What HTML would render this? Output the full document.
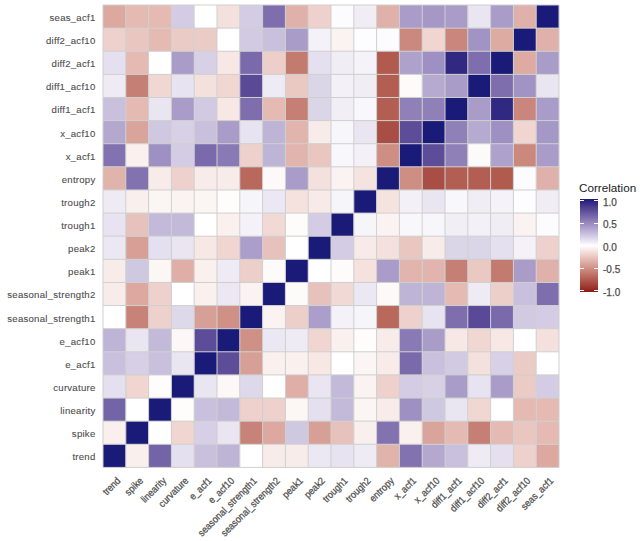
<!DOCTYPE html>
<html><head><meta charset="utf-8"><style>
html,body{margin:0;padding:0;background:#fff;}
body{width:640px;height:541px;position:relative;overflow:hidden;font-family:"Liberation Sans",sans-serif;}
.g{position:absolute;left:0;top:0;}
.yl{position:absolute;right:544.5px;font-size:9.6px;letter-spacing:0.25px;line-height:12px;color:#4d4d4d;white-space:nowrap;text-align:right;-webkit-text-stroke:0.1px #4d4d4d;}
.xl{position:absolute;top:475px;width:200px;height:12px;}
.xl span{position:absolute;right:0;top:0;font-size:10px;line-height:12px;color:#4d4d4d;white-space:nowrap;-webkit-text-stroke:0.25px #4d4d4d;transform-origin:100% 0;transform:rotate(-45deg) scaleX(0.9);}
.lt{position:absolute;left:579px;top:180.8px;font-size:11.7px;line-height:14px;color:#1a1a1a;}
.lb{position:absolute;left:580px;top:198.6px;width:18px;height:93.6px;background:linear-gradient(to bottom,#1a1a78 0.0%,#2b247f 2.5%,#392e85 5.0%,#46388c 7.5%,#524393 10.0%,#5d4d99 12.5%,#6858a0 15.0%,#7363a7 17.5%,#7e6ead 20.0%,#8979b4 22.5%,#9485bb 25.0%,#9e90c2 27.5%,#a99cc8 30.0%,#b4a8cf 32.5%,#beb4d6 35.0%,#c9c0dd 37.5%,#d4cce4 40.0%,#ded9ea 42.5%,#e9e5f1 45.0%,#f4f2f8 47.5%,#ffffff 50.0%,#fbf3f2 52.5%,#f7e8e5 55.0%,#f2dcd9 57.5%,#eed1cc 60.0%,#e9c6c0 62.5%,#e4bab3 65.0%,#dfafa7 67.5%,#d9a49b 70.0%,#d4998f 72.5%,#ce8e84 75.0%,#c88378 77.5%,#c2786d 80.0%,#bc6d62 82.5%,#b66257 85.0%,#af574c 87.5%,#a84c42 90.0%,#a14137 92.5%,#9a352d 95.0%,#932924 97.5%,#8b1a1a 100.0%);}
.tk{position:absolute;width:4px;height:1px;background:#fff;}
.ll{position:absolute;left:603px;font-size:10px;line-height:10px;color:#4d4d4d;-webkit-text-stroke:0.25px #4d4d4d;}
</style></head><body>
<svg class="g" width="640" height="541" viewBox="0 0 640 541"><rect x="103.00" y="5.00" width="22.85" height="23.17" fill="#dca8a0"/><rect x="125.80" y="5.00" width="22.85" height="23.17" fill="#e4bab3"/><rect x="148.60" y="5.00" width="22.85" height="23.17" fill="#e4bab3"/><rect x="171.40" y="5.00" width="22.85" height="23.17" fill="#d4cce4"/><rect x="194.20" y="5.00" width="22.85" height="23.17" fill="#ffffff"/><rect x="217.00" y="5.00" width="22.85" height="23.17" fill="#f4e0dc"/><rect x="239.80" y="5.00" width="22.85" height="23.17" fill="#d4cce4"/><rect x="262.60" y="5.00" width="22.85" height="23.17" fill="#7e6ead"/><rect x="285.40" y="5.00" width="22.85" height="23.17" fill="#e0b1aa"/><rect x="308.20" y="5.00" width="22.85" height="23.17" fill="#eed1cc"/><rect x="331.00" y="5.00" width="22.85" height="23.17" fill="#fcfbfd"/><rect x="353.80" y="5.00" width="22.85" height="23.17" fill="#f0edf5"/><rect x="376.60" y="5.00" width="22.85" height="23.17" fill="#e0b1aa"/><rect x="399.40" y="5.00" width="22.85" height="23.17" fill="#a99cc8"/><rect x="422.20" y="5.00" width="22.85" height="23.17" fill="#a597c6"/><rect x="445.00" y="5.00" width="22.85" height="23.17" fill="#a99cc8"/><rect x="467.80" y="5.00" width="22.85" height="23.17" fill="#e9e5f1"/><rect x="490.60" y="5.00" width="22.85" height="23.17" fill="#a99cc8"/><rect x="513.40" y="5.00" width="22.85" height="23.17" fill="#e0b1aa"/><rect x="536.20" y="5.00" width="22.85" height="23.17" fill="#1a1a78"/><rect x="103.00" y="28.12" width="22.85" height="23.17" fill="#eed1cc"/><rect x="125.80" y="28.12" width="22.85" height="23.17" fill="#e9c6c0"/><rect x="148.60" y="28.12" width="22.85" height="23.17" fill="#e4bab3"/><rect x="171.40" y="28.12" width="22.85" height="23.17" fill="#ebcbc6"/><rect x="194.20" y="28.12" width="22.85" height="23.17" fill="#ebcbc6"/><rect x="217.00" y="28.12" width="22.85" height="23.17" fill="#ffffff"/><rect x="239.80" y="28.12" width="22.85" height="23.17" fill="#d2cae2"/><rect x="262.60" y="28.12" width="22.85" height="23.17" fill="#c9c0dd"/><rect x="285.40" y="28.12" width="22.85" height="23.17" fill="#a99cc8"/><rect x="308.20" y="28.12" width="22.85" height="23.17" fill="#f4f2f8"/><rect x="331.00" y="28.12" width="22.85" height="23.17" fill="#fbf3f2"/><rect x="353.80" y="28.12" width="22.85" height="23.17" fill="#fdfcfe"/><rect x="376.60" y="28.12" width="22.85" height="23.17" fill="#fcfbfd"/><rect x="399.40" y="28.12" width="22.85" height="23.17" fill="#cb897e"/><rect x="422.20" y="28.12" width="22.85" height="23.17" fill="#f0d5d1"/><rect x="445.00" y="28.12" width="22.85" height="23.17" fill="#ca867c"/><rect x="467.80" y="28.12" width="22.85" height="23.17" fill="#a194c4"/><rect x="490.60" y="28.12" width="22.85" height="23.17" fill="#ddaba2"/><rect x="513.40" y="28.12" width="22.85" height="23.17" fill="#1a1a78"/><rect x="536.20" y="28.12" width="22.85" height="23.17" fill="#e0b1aa"/><rect x="103.00" y="51.24" width="22.85" height="23.17" fill="#e5e0ef"/><rect x="125.80" y="51.24" width="22.85" height="23.17" fill="#e4bab3"/><rect x="148.60" y="51.24" width="22.85" height="23.17" fill="#ffffff"/><rect x="171.40" y="51.24" width="22.85" height="23.17" fill="#a99cc8"/><rect x="194.20" y="51.24" width="22.85" height="23.17" fill="#d7d0e6"/><rect x="217.00" y="51.24" width="22.85" height="23.17" fill="#f7e8e5"/><rect x="239.80" y="51.24" width="22.85" height="23.17" fill="#7a69ab"/><rect x="262.60" y="51.24" width="22.85" height="23.17" fill="#edcfca"/><rect x="285.40" y="51.24" width="22.85" height="23.17" fill="#c37a6f"/><rect x="308.20" y="51.24" width="22.85" height="23.17" fill="#e5e0ef"/><rect x="331.00" y="51.24" width="22.85" height="23.17" fill="#f0edf5"/><rect x="353.80" y="51.24" width="22.85" height="23.17" fill="#f5f3f9"/><rect x="376.60" y="51.24" width="22.85" height="23.17" fill="#b15b4f"/><rect x="399.40" y="51.24" width="22.85" height="23.17" fill="#aea2cc"/><rect x="422.20" y="51.24" width="22.85" height="23.17" fill="#9e90c2"/><rect x="445.00" y="51.24" width="22.85" height="23.17" fill="#312881"/><rect x="467.80" y="51.24" width="22.85" height="23.17" fill="#7e6ead"/><rect x="490.60" y="51.24" width="22.85" height="23.17" fill="#1a1a78"/><rect x="513.40" y="51.24" width="22.85" height="23.17" fill="#ddaba2"/><rect x="536.20" y="51.24" width="22.85" height="23.17" fill="#a99cc8"/><rect x="103.00" y="74.36" width="22.85" height="23.17" fill="#eeebf4"/><rect x="125.80" y="74.36" width="22.85" height="23.17" fill="#c67f74"/><rect x="148.60" y="74.36" width="22.85" height="23.17" fill="#f0d7d2"/><rect x="171.40" y="74.36" width="22.85" height="23.17" fill="#e7e3f0"/><rect x="194.20" y="74.36" width="22.85" height="23.17" fill="#f4e0dc"/><rect x="217.00" y="74.36" width="22.85" height="23.17" fill="#f0d7d2"/><rect x="239.80" y="74.36" width="22.85" height="23.17" fill="#594997"/><rect x="262.60" y="74.36" width="22.85" height="23.17" fill="#eeebf4"/><rect x="285.40" y="74.36" width="22.85" height="23.17" fill="#eac9c3"/><rect x="308.20" y="74.36" width="22.85" height="23.17" fill="#dbd5e8"/><rect x="331.00" y="74.36" width="22.85" height="23.17" fill="#f3f1f7"/><rect x="353.80" y="74.36" width="22.85" height="23.17" fill="#f0edf5"/><rect x="376.60" y="74.36" width="22.85" height="23.17" fill="#b35e53"/><rect x="399.40" y="74.36" width="22.85" height="23.17" fill="#fdfafa"/><rect x="422.20" y="74.36" width="22.85" height="23.17" fill="#b6aad1"/><rect x="445.00" y="74.36" width="22.85" height="23.17" fill="#a99cc8"/><rect x="467.80" y="74.36" width="22.85" height="23.17" fill="#1a1a78"/><rect x="490.60" y="74.36" width="22.85" height="23.17" fill="#7e6ead"/><rect x="513.40" y="74.36" width="22.85" height="23.17" fill="#a194c4"/><rect x="536.20" y="74.36" width="22.85" height="23.17" fill="#e9e5f1"/><rect x="103.00" y="97.48" width="22.85" height="23.17" fill="#c9c0dd"/><rect x="125.80" y="97.48" width="22.85" height="23.17" fill="#e4bab3"/><rect x="148.60" y="97.48" width="22.85" height="23.17" fill="#e9e5f1"/><rect x="171.40" y="97.48" width="22.85" height="23.17" fill="#a99cc8"/><rect x="194.20" y="97.48" width="22.85" height="23.17" fill="#d2cae2"/><rect x="217.00" y="97.48" width="22.85" height="23.17" fill="#f7e8e5"/><rect x="239.80" y="97.48" width="22.85" height="23.17" fill="#7e6ead"/><rect x="262.60" y="97.48" width="22.85" height="23.17" fill="#e4bab3"/><rect x="285.40" y="97.48" width="22.85" height="23.17" fill="#c67f74"/><rect x="308.20" y="97.48" width="22.85" height="23.17" fill="#dbd5e8"/><rect x="331.00" y="97.48" width="22.85" height="23.17" fill="#f1eef6"/><rect x="353.80" y="97.48" width="22.85" height="23.17" fill="#f8f7fb"/><rect x="376.60" y="97.48" width="22.85" height="23.17" fill="#b35e53"/><rect x="399.40" y="97.48" width="22.85" height="23.17" fill="#8f80b8"/><rect x="422.20" y="97.48" width="22.85" height="23.17" fill="#8f80b8"/><rect x="445.00" y="97.48" width="22.85" height="23.17" fill="#1a1a78"/><rect x="467.80" y="97.48" width="22.85" height="23.17" fill="#a99cc8"/><rect x="490.60" y="97.48" width="22.85" height="23.17" fill="#312881"/><rect x="513.40" y="97.48" width="22.85" height="23.17" fill="#ca867c"/><rect x="536.20" y="97.48" width="22.85" height="23.17" fill="#a99cc8"/><rect x="103.00" y="120.60" width="22.85" height="23.17" fill="#b4a8cf"/><rect x="125.80" y="120.60" width="22.85" height="23.17" fill="#d9a49b"/><rect x="148.60" y="120.60" width="22.85" height="23.17" fill="#cfc8e1"/><rect x="171.40" y="120.60" width="22.85" height="23.17" fill="#d8d1e6"/><rect x="194.20" y="120.60" width="22.85" height="23.17" fill="#c9c0dd"/><rect x="217.00" y="120.60" width="22.85" height="23.17" fill="#a99cc8"/><rect x="239.80" y="120.60" width="22.85" height="23.17" fill="#e7e3f0"/><rect x="262.60" y="120.60" width="22.85" height="23.17" fill="#beb4d6"/><rect x="285.40" y="120.60" width="22.85" height="23.17" fill="#e1b5ad"/><rect x="308.20" y="120.60" width="22.85" height="23.17" fill="#f8ecea"/><rect x="331.00" y="120.60" width="22.85" height="23.17" fill="#f7f6fa"/><rect x="353.80" y="120.60" width="22.85" height="23.17" fill="#e9e5f1"/><rect x="376.60" y="120.60" width="22.85" height="23.17" fill="#a94e44"/><rect x="399.40" y="120.60" width="22.85" height="23.17" fill="#5d4d99"/><rect x="422.20" y="120.60" width="22.85" height="23.17" fill="#1a1a78"/><rect x="445.00" y="120.60" width="22.85" height="23.17" fill="#8f80b8"/><rect x="467.80" y="120.60" width="22.85" height="23.17" fill="#b6aad1"/><rect x="490.60" y="120.60" width="22.85" height="23.17" fill="#9e90c2"/><rect x="513.40" y="120.60" width="22.85" height="23.17" fill="#f0d5d1"/><rect x="536.20" y="120.60" width="22.85" height="23.17" fill="#a597c6"/><rect x="103.00" y="143.72" width="22.85" height="23.17" fill="#8272b0"/><rect x="125.80" y="143.72" width="22.85" height="23.17" fill="#faf0ee"/><rect x="148.60" y="143.72" width="22.85" height="23.17" fill="#9e90c2"/><rect x="171.40" y="143.72" width="22.85" height="23.17" fill="#d4cce4"/><rect x="194.20" y="143.72" width="22.85" height="23.17" fill="#7a69ab"/><rect x="217.00" y="143.72" width="22.85" height="23.17" fill="#8979b4"/><rect x="239.80" y="143.72" width="22.85" height="23.17" fill="#eed1cc"/><rect x="262.60" y="143.72" width="22.85" height="23.17" fill="#beb4d6"/><rect x="285.40" y="143.72" width="22.85" height="23.17" fill="#e1b5ad"/><rect x="308.20" y="143.72" width="22.85" height="23.17" fill="#e9c6c0"/><rect x="331.00" y="143.72" width="22.85" height="23.17" fill="#f8f7fb"/><rect x="353.80" y="143.72" width="22.85" height="23.17" fill="#f3f1f7"/><rect x="376.60" y="143.72" width="22.85" height="23.17" fill="#ce8e84"/><rect x="399.40" y="143.72" width="22.85" height="23.17" fill="#1a1a78"/><rect x="422.20" y="143.72" width="22.85" height="23.17" fill="#5d4d99"/><rect x="445.00" y="143.72" width="22.85" height="23.17" fill="#8f80b8"/><rect x="467.80" y="143.72" width="22.85" height="23.17" fill="#fdfafa"/><rect x="490.60" y="143.72" width="22.85" height="23.17" fill="#aea2cc"/><rect x="513.40" y="143.72" width="22.85" height="23.17" fill="#cb897e"/><rect x="536.20" y="143.72" width="22.85" height="23.17" fill="#a99cc8"/><rect x="103.00" y="166.84" width="22.85" height="23.17" fill="#e0b3ab"/><rect x="125.80" y="166.84" width="22.85" height="23.17" fill="#8272b0"/><rect x="148.60" y="166.84" width="22.85" height="23.17" fill="#f8ecea"/><rect x="171.40" y="166.84" width="22.85" height="23.17" fill="#eed1cc"/><rect x="194.20" y="166.84" width="22.85" height="23.17" fill="#f8ecea"/><rect x="217.00" y="166.84" width="22.85" height="23.17" fill="#f8ecea"/><rect x="239.80" y="166.84" width="22.85" height="23.17" fill="#b9685c"/><rect x="262.60" y="166.84" width="22.85" height="23.17" fill="#fdf9f9"/><rect x="285.40" y="166.84" width="22.85" height="23.17" fill="#a99cc8"/><rect x="308.20" y="166.84" width="22.85" height="23.17" fill="#f4e0dc"/><rect x="331.00" y="166.84" width="22.85" height="23.17" fill="#fbf3f2"/><rect x="353.80" y="166.84" width="22.85" height="23.17" fill="#f5e3e0"/><rect x="376.60" y="166.84" width="22.85" height="23.17" fill="#1a1a78"/><rect x="399.40" y="166.84" width="22.85" height="23.17" fill="#ce8e84"/><rect x="422.20" y="166.84" width="22.85" height="23.17" fill="#a94e44"/><rect x="445.00" y="166.84" width="22.85" height="23.17" fill="#b35e53"/><rect x="467.80" y="166.84" width="22.85" height="23.17" fill="#b35e53"/><rect x="490.60" y="166.84" width="22.85" height="23.17" fill="#b15b4f"/><rect x="513.40" y="166.84" width="22.85" height="23.17" fill="#fcfbfd"/><rect x="536.20" y="166.84" width="22.85" height="23.17" fill="#e0b1aa"/><rect x="103.00" y="189.96" width="22.85" height="23.17" fill="#eeebf4"/><rect x="125.80" y="189.96" width="22.85" height="23.17" fill="#f9efed"/><rect x="148.60" y="189.96" width="22.85" height="23.17" fill="#fbf5f3"/><rect x="171.40" y="189.96" width="22.85" height="23.17" fill="#fbf3f2"/><rect x="194.20" y="189.96" width="22.85" height="23.17" fill="#fbf5f3"/><rect x="217.00" y="189.96" width="22.85" height="23.17" fill="#fefdfc"/><rect x="239.80" y="189.96" width="22.85" height="23.17" fill="#f6f5fa"/><rect x="262.60" y="189.96" width="22.85" height="23.17" fill="#ebe8f3"/><rect x="285.40" y="189.96" width="22.85" height="23.17" fill="#f5e2df"/><rect x="308.20" y="189.96" width="22.85" height="23.17" fill="#f8eae8"/><rect x="331.00" y="189.96" width="22.85" height="23.17" fill="#f6f5fa"/><rect x="353.80" y="189.96" width="22.85" height="23.17" fill="#1a1a78"/><rect x="376.60" y="189.96" width="22.85" height="23.17" fill="#f5e3e0"/><rect x="399.40" y="189.96" width="22.85" height="23.17" fill="#f3f1f7"/><rect x="422.20" y="189.96" width="22.85" height="23.17" fill="#e9e5f1"/><rect x="445.00" y="189.96" width="22.85" height="23.17" fill="#f8f7fb"/><rect x="467.80" y="189.96" width="22.85" height="23.17" fill="#f0edf5"/><rect x="490.60" y="189.96" width="22.85" height="23.17" fill="#f5f3f9"/><rect x="513.40" y="189.96" width="22.85" height="23.17" fill="#fdfcfe"/><rect x="536.20" y="189.96" width="22.85" height="23.17" fill="#f0edf5"/><rect x="103.00" y="213.08" width="22.85" height="23.17" fill="#e7e3f0"/><rect x="125.80" y="213.08" width="22.85" height="23.17" fill="#e7c2bc"/><rect x="148.60" y="213.08" width="22.85" height="23.17" fill="#c3b9d9"/><rect x="171.40" y="213.08" width="22.85" height="23.17" fill="#c3b9d9"/><rect x="194.20" y="213.08" width="22.85" height="23.17" fill="#ffffff"/><rect x="217.00" y="213.08" width="22.85" height="23.17" fill="#faf1ef"/><rect x="239.80" y="213.08" width="22.85" height="23.17" fill="#f4f2f8"/><rect x="262.60" y="213.08" width="22.85" height="23.17" fill="#f1d9d5"/><rect x="285.40" y="213.08" width="22.85" height="23.17" fill="#fefcfb"/><rect x="308.20" y="213.08" width="22.85" height="23.17" fill="#d4cce4"/><rect x="331.00" y="213.08" width="22.85" height="23.17" fill="#1a1a78"/><rect x="353.80" y="213.08" width="22.85" height="23.17" fill="#f6f5fa"/><rect x="376.60" y="213.08" width="22.85" height="23.17" fill="#fbf3f2"/><rect x="399.40" y="213.08" width="22.85" height="23.17" fill="#f8f7fb"/><rect x="422.20" y="213.08" width="22.85" height="23.17" fill="#f7f6fa"/><rect x="445.00" y="213.08" width="22.85" height="23.17" fill="#f1eef6"/><rect x="467.80" y="213.08" width="22.85" height="23.17" fill="#f3f1f7"/><rect x="490.60" y="213.08" width="22.85" height="23.17" fill="#f0edf5"/><rect x="513.40" y="213.08" width="22.85" height="23.17" fill="#fbf3f2"/><rect x="536.20" y="213.08" width="22.85" height="23.17" fill="#fcfbfd"/><rect x="103.00" y="236.20" width="22.85" height="23.17" fill="#ebe8f3"/><rect x="125.80" y="236.20" width="22.85" height="23.17" fill="#d7a097"/><rect x="148.60" y="236.20" width="22.85" height="23.17" fill="#e5e0ef"/><rect x="171.40" y="236.20" width="22.85" height="23.17" fill="#e9e5f1"/><rect x="194.20" y="236.20" width="22.85" height="23.17" fill="#f7e8e5"/><rect x="217.00" y="236.20" width="22.85" height="23.17" fill="#f0d5d1"/><rect x="239.80" y="236.20" width="22.85" height="23.17" fill="#ab9eca"/><rect x="262.60" y="236.20" width="22.85" height="23.17" fill="#e7c2bc"/><rect x="285.40" y="236.20" width="22.85" height="23.17" fill="#ffffff"/><rect x="308.20" y="236.20" width="22.85" height="23.17" fill="#1a1a78"/><rect x="331.00" y="236.20" width="22.85" height="23.17" fill="#d4cce4"/><rect x="353.80" y="236.20" width="22.85" height="23.17" fill="#f8eae8"/><rect x="376.60" y="236.20" width="22.85" height="23.17" fill="#f4e0dc"/><rect x="399.40" y="236.20" width="22.85" height="23.17" fill="#e9c6c0"/><rect x="422.20" y="236.20" width="22.85" height="23.17" fill="#f8ecea"/><rect x="445.00" y="236.20" width="22.85" height="23.17" fill="#dbd5e8"/><rect x="467.80" y="236.20" width="22.85" height="23.17" fill="#dbd5e8"/><rect x="490.60" y="236.20" width="22.85" height="23.17" fill="#e5e0ef"/><rect x="513.40" y="236.20" width="22.85" height="23.17" fill="#f4f2f8"/><rect x="536.20" y="236.20" width="22.85" height="23.17" fill="#eed1cc"/><rect x="103.00" y="259.32" width="22.85" height="23.17" fill="#f8ecea"/><rect x="125.80" y="259.32" width="22.85" height="23.17" fill="#cfc8e1"/><rect x="148.60" y="259.32" width="22.85" height="23.17" fill="#fcf6f5"/><rect x="171.40" y="259.32" width="22.85" height="23.17" fill="#dfafa7"/><rect x="194.20" y="259.32" width="22.85" height="23.17" fill="#faf1ef"/><rect x="217.00" y="259.32" width="22.85" height="23.17" fill="#eeebf4"/><rect x="239.80" y="259.32" width="22.85" height="23.17" fill="#edcfca"/><rect x="262.60" y="259.32" width="22.85" height="23.17" fill="#fdfafa"/><rect x="285.40" y="259.32" width="22.85" height="23.17" fill="#1a1a78"/><rect x="308.20" y="259.32" width="22.85" height="23.17" fill="#ffffff"/><rect x="331.00" y="259.32" width="22.85" height="23.17" fill="#fefcfb"/><rect x="353.80" y="259.32" width="22.85" height="23.17" fill="#f5e2df"/><rect x="376.60" y="259.32" width="22.85" height="23.17" fill="#a99cc8"/><rect x="399.40" y="259.32" width="22.85" height="23.17" fill="#e1b5ad"/><rect x="422.20" y="259.32" width="22.85" height="23.17" fill="#e1b5ad"/><rect x="445.00" y="259.32" width="22.85" height="23.17" fill="#c67f74"/><rect x="467.80" y="259.32" width="22.85" height="23.17" fill="#eac9c3"/><rect x="490.60" y="259.32" width="22.85" height="23.17" fill="#c37a6f"/><rect x="513.40" y="259.32" width="22.85" height="23.17" fill="#a99cc8"/><rect x="536.20" y="259.32" width="22.85" height="23.17" fill="#e0b1aa"/><rect x="103.00" y="282.44" width="22.85" height="23.17" fill="#f8ecea"/><rect x="125.80" y="282.44" width="22.85" height="23.17" fill="#dca8a0"/><rect x="148.60" y="282.44" width="22.85" height="23.17" fill="#eed1cc"/><rect x="171.40" y="282.44" width="22.85" height="23.17" fill="#ffffff"/><rect x="194.20" y="282.44" width="22.85" height="23.17" fill="#faf1ef"/><rect x="217.00" y="282.44" width="22.85" height="23.17" fill="#ebe8f3"/><rect x="239.80" y="282.44" width="22.85" height="23.17" fill="#fbf3f2"/><rect x="262.60" y="282.44" width="22.85" height="23.17" fill="#1a1a78"/><rect x="285.40" y="282.44" width="22.85" height="23.17" fill="#fdfafa"/><rect x="308.20" y="282.44" width="22.85" height="23.17" fill="#e7c2bc"/><rect x="331.00" y="282.44" width="22.85" height="23.17" fill="#f1d9d5"/><rect x="353.80" y="282.44" width="22.85" height="23.17" fill="#ebe8f3"/><rect x="376.60" y="282.44" width="22.85" height="23.17" fill="#fdf9f9"/><rect x="399.40" y="282.44" width="22.85" height="23.17" fill="#beb4d6"/><rect x="422.20" y="282.44" width="22.85" height="23.17" fill="#beb4d6"/><rect x="445.00" y="282.44" width="22.85" height="23.17" fill="#e4bab3"/><rect x="467.80" y="282.44" width="22.85" height="23.17" fill="#eeebf4"/><rect x="490.60" y="282.44" width="22.85" height="23.17" fill="#edcfca"/><rect x="513.40" y="282.44" width="22.85" height="23.17" fill="#c9c0dd"/><rect x="536.20" y="282.44" width="22.85" height="23.17" fill="#7e6ead"/><rect x="103.00" y="305.56" width="22.85" height="23.17" fill="#ffffff"/><rect x="125.80" y="305.56" width="22.85" height="23.17" fill="#c88378"/><rect x="148.60" y="305.56" width="22.85" height="23.17" fill="#eed1cc"/><rect x="171.40" y="305.56" width="22.85" height="23.17" fill="#ded9ea"/><rect x="194.20" y="305.56" width="22.85" height="23.17" fill="#d7a097"/><rect x="217.00" y="305.56" width="22.85" height="23.17" fill="#cf9086"/><rect x="239.80" y="305.56" width="22.85" height="23.17" fill="#1a1a78"/><rect x="262.60" y="305.56" width="22.85" height="23.17" fill="#fbf3f2"/><rect x="285.40" y="305.56" width="22.85" height="23.17" fill="#edcfca"/><rect x="308.20" y="305.56" width="22.85" height="23.17" fill="#ab9eca"/><rect x="331.00" y="305.56" width="22.85" height="23.17" fill="#f4f2f8"/><rect x="353.80" y="305.56" width="22.85" height="23.17" fill="#f6f5fa"/><rect x="376.60" y="305.56" width="22.85" height="23.17" fill="#b9685c"/><rect x="399.40" y="305.56" width="22.85" height="23.17" fill="#eed1cc"/><rect x="422.20" y="305.56" width="22.85" height="23.17" fill="#e7e3f0"/><rect x="445.00" y="305.56" width="22.85" height="23.17" fill="#7e6ead"/><rect x="467.80" y="305.56" width="22.85" height="23.17" fill="#594997"/><rect x="490.60" y="305.56" width="22.85" height="23.17" fill="#7a69ab"/><rect x="513.40" y="305.56" width="22.85" height="23.17" fill="#d2cae2"/><rect x="536.20" y="305.56" width="22.85" height="23.17" fill="#d4cce4"/><rect x="103.00" y="328.68" width="22.85" height="23.17" fill="#beb4d6"/><rect x="125.80" y="328.68" width="22.85" height="23.17" fill="#e9e5f1"/><rect x="148.60" y="328.68" width="22.85" height="23.17" fill="#c3b9d9"/><rect x="171.40" y="328.68" width="22.85" height="23.17" fill="#fdf8f7"/><rect x="194.20" y="328.68" width="22.85" height="23.17" fill="#5d4d99"/><rect x="217.00" y="328.68" width="22.85" height="23.17" fill="#1a1a78"/><rect x="239.80" y="328.68" width="22.85" height="23.17" fill="#cf9086"/><rect x="262.60" y="328.68" width="22.85" height="23.17" fill="#ebe8f3"/><rect x="285.40" y="328.68" width="22.85" height="23.17" fill="#eeebf4"/><rect x="308.20" y="328.68" width="22.85" height="23.17" fill="#f0d5d1"/><rect x="331.00" y="328.68" width="22.85" height="23.17" fill="#faf1ef"/><rect x="353.80" y="328.68" width="22.85" height="23.17" fill="#fefdfc"/><rect x="376.60" y="328.68" width="22.85" height="23.17" fill="#f8ecea"/><rect x="399.40" y="328.68" width="22.85" height="23.17" fill="#8979b4"/><rect x="422.20" y="328.68" width="22.85" height="23.17" fill="#a99cc8"/><rect x="445.00" y="328.68" width="22.85" height="23.17" fill="#f7e8e5"/><rect x="467.80" y="328.68" width="22.85" height="23.17" fill="#f0d7d2"/><rect x="490.60" y="328.68" width="22.85" height="23.17" fill="#f7e8e5"/><rect x="513.40" y="328.68" width="22.85" height="23.17" fill="#ffffff"/><rect x="536.20" y="328.68" width="22.85" height="23.17" fill="#f4e0dc"/><rect x="103.00" y="351.80" width="22.85" height="23.17" fill="#c9c0dd"/><rect x="125.80" y="351.80" width="22.85" height="23.17" fill="#d6cfe5"/><rect x="148.60" y="351.80" width="22.85" height="23.17" fill="#c9c0dd"/><rect x="171.40" y="351.80" width="22.85" height="23.17" fill="#e9e5f1"/><rect x="194.20" y="351.80" width="22.85" height="23.17" fill="#1a1a78"/><rect x="217.00" y="351.80" width="22.85" height="23.17" fill="#5d4d99"/><rect x="239.80" y="351.80" width="22.85" height="23.17" fill="#d7a097"/><rect x="262.60" y="351.80" width="22.85" height="23.17" fill="#faf1ef"/><rect x="285.40" y="351.80" width="22.85" height="23.17" fill="#faf1ef"/><rect x="308.20" y="351.80" width="22.85" height="23.17" fill="#f7e8e5"/><rect x="331.00" y="351.80" width="22.85" height="23.17" fill="#ffffff"/><rect x="353.80" y="351.80" width="22.85" height="23.17" fill="#fbf5f3"/><rect x="376.60" y="351.80" width="22.85" height="23.17" fill="#f8ecea"/><rect x="399.40" y="351.80" width="22.85" height="23.17" fill="#7a69ab"/><rect x="422.20" y="351.80" width="22.85" height="23.17" fill="#c9c0dd"/><rect x="445.00" y="351.80" width="22.85" height="23.17" fill="#d2cae2"/><rect x="467.80" y="351.80" width="22.85" height="23.17" fill="#f4e0dc"/><rect x="490.60" y="351.80" width="22.85" height="23.17" fill="#d7d0e6"/><rect x="513.40" y="351.80" width="22.85" height="23.17" fill="#ebcbc6"/><rect x="536.20" y="351.80" width="22.85" height="23.17" fill="#ffffff"/><rect x="103.00" y="374.92" width="22.85" height="23.17" fill="#e5e0ef"/><rect x="125.80" y="374.92" width="22.85" height="23.17" fill="#f0d5d1"/><rect x="148.60" y="374.92" width="22.85" height="23.17" fill="#fefdfc"/><rect x="171.40" y="374.92" width="22.85" height="23.17" fill="#1a1a78"/><rect x="194.20" y="374.92" width="22.85" height="23.17" fill="#e9e5f1"/><rect x="217.00" y="374.92" width="22.85" height="23.17" fill="#fdf8f7"/><rect x="239.80" y="374.92" width="22.85" height="23.17" fill="#ded9ea"/><rect x="262.60" y="374.92" width="22.85" height="23.17" fill="#ffffff"/><rect x="285.40" y="374.92" width="22.85" height="23.17" fill="#dfafa7"/><rect x="308.20" y="374.92" width="22.85" height="23.17" fill="#e9e5f1"/><rect x="331.00" y="374.92" width="22.85" height="23.17" fill="#c3b9d9"/><rect x="353.80" y="374.92" width="22.85" height="23.17" fill="#fbf3f2"/><rect x="376.60" y="374.92" width="22.85" height="23.17" fill="#eed1cc"/><rect x="399.40" y="374.92" width="22.85" height="23.17" fill="#d4cce4"/><rect x="422.20" y="374.92" width="22.85" height="23.17" fill="#d8d1e6"/><rect x="445.00" y="374.92" width="22.85" height="23.17" fill="#a99cc8"/><rect x="467.80" y="374.92" width="22.85" height="23.17" fill="#e7e3f0"/><rect x="490.60" y="374.92" width="22.85" height="23.17" fill="#a99cc8"/><rect x="513.40" y="374.92" width="22.85" height="23.17" fill="#ebcbc6"/><rect x="536.20" y="374.92" width="22.85" height="23.17" fill="#d4cce4"/><rect x="103.00" y="398.04" width="22.85" height="23.17" fill="#7363a7"/><rect x="125.80" y="398.04" width="22.85" height="23.17" fill="#ffffff"/><rect x="148.60" y="398.04" width="22.85" height="23.17" fill="#1a1a78"/><rect x="171.40" y="398.04" width="22.85" height="23.17" fill="#fefdfc"/><rect x="194.20" y="398.04" width="22.85" height="23.17" fill="#c9c0dd"/><rect x="217.00" y="398.04" width="22.85" height="23.17" fill="#c3b9d9"/><rect x="239.80" y="398.04" width="22.85" height="23.17" fill="#eed1cc"/><rect x="262.60" y="398.04" width="22.85" height="23.17" fill="#eed1cc"/><rect x="285.40" y="398.04" width="22.85" height="23.17" fill="#fcf6f5"/><rect x="308.20" y="398.04" width="22.85" height="23.17" fill="#e5e0ef"/><rect x="331.00" y="398.04" width="22.85" height="23.17" fill="#c3b9d9"/><rect x="353.80" y="398.04" width="22.85" height="23.17" fill="#fbf5f3"/><rect x="376.60" y="398.04" width="22.85" height="23.17" fill="#f8ecea"/><rect x="399.40" y="398.04" width="22.85" height="23.17" fill="#9e90c2"/><rect x="422.20" y="398.04" width="22.85" height="23.17" fill="#cfc8e1"/><rect x="445.00" y="398.04" width="22.85" height="23.17" fill="#e9e5f1"/><rect x="467.80" y="398.04" width="22.85" height="23.17" fill="#f0d7d2"/><rect x="490.60" y="398.04" width="22.85" height="23.17" fill="#ffffff"/><rect x="513.40" y="398.04" width="22.85" height="23.17" fill="#e4bab3"/><rect x="536.20" y="398.04" width="22.85" height="23.17" fill="#e4bab3"/><rect x="103.00" y="421.16" width="22.85" height="23.17" fill="#f9efed"/><rect x="125.80" y="421.16" width="22.85" height="23.17" fill="#1a1a78"/><rect x="148.60" y="421.16" width="22.85" height="23.17" fill="#ffffff"/><rect x="171.40" y="421.16" width="22.85" height="23.17" fill="#f0d5d1"/><rect x="194.20" y="421.16" width="22.85" height="23.17" fill="#d6cfe5"/><rect x="217.00" y="421.16" width="22.85" height="23.17" fill="#e9e5f1"/><rect x="239.80" y="421.16" width="22.85" height="23.17" fill="#c88378"/><rect x="262.60" y="421.16" width="22.85" height="23.17" fill="#dca8a0"/><rect x="285.40" y="421.16" width="22.85" height="23.17" fill="#cfc8e1"/><rect x="308.20" y="421.16" width="22.85" height="23.17" fill="#d7a097"/><rect x="331.00" y="421.16" width="22.85" height="23.17" fill="#e7c2bc"/><rect x="353.80" y="421.16" width="22.85" height="23.17" fill="#f9efed"/><rect x="376.60" y="421.16" width="22.85" height="23.17" fill="#8272b0"/><rect x="399.40" y="421.16" width="22.85" height="23.17" fill="#faf0ee"/><rect x="422.20" y="421.16" width="22.85" height="23.17" fill="#d9a49b"/><rect x="445.00" y="421.16" width="22.85" height="23.17" fill="#e4bab3"/><rect x="467.80" y="421.16" width="22.85" height="23.17" fill="#c67f74"/><rect x="490.60" y="421.16" width="22.85" height="23.17" fill="#e4bab3"/><rect x="513.40" y="421.16" width="22.85" height="23.17" fill="#e9c6c0"/><rect x="536.20" y="421.16" width="22.85" height="23.17" fill="#e4bab3"/><rect x="103.00" y="444.28" width="22.85" height="23.17" fill="#1a1a78"/><rect x="125.80" y="444.28" width="22.85" height="23.17" fill="#f9efed"/><rect x="148.60" y="444.28" width="22.85" height="23.17" fill="#7363a7"/><rect x="171.40" y="444.28" width="22.85" height="23.17" fill="#e5e0ef"/><rect x="194.20" y="444.28" width="22.85" height="23.17" fill="#c9c0dd"/><rect x="217.00" y="444.28" width="22.85" height="23.17" fill="#beb4d6"/><rect x="239.80" y="444.28" width="22.85" height="23.17" fill="#ffffff"/><rect x="262.60" y="444.28" width="22.85" height="23.17" fill="#f8ecea"/><rect x="285.40" y="444.28" width="22.85" height="23.17" fill="#f8ecea"/><rect x="308.20" y="444.28" width="22.85" height="23.17" fill="#ebe8f3"/><rect x="331.00" y="444.28" width="22.85" height="23.17" fill="#e7e3f0"/><rect x="353.80" y="444.28" width="22.85" height="23.17" fill="#eeebf4"/><rect x="376.60" y="444.28" width="22.85" height="23.17" fill="#e0b3ab"/><rect x="399.40" y="444.28" width="22.85" height="23.17" fill="#8272b0"/><rect x="422.20" y="444.28" width="22.85" height="23.17" fill="#b4a8cf"/><rect x="445.00" y="444.28" width="22.85" height="23.17" fill="#c9c0dd"/><rect x="467.80" y="444.28" width="22.85" height="23.17" fill="#eeebf4"/><rect x="490.60" y="444.28" width="22.85" height="23.17" fill="#e5e0ef"/><rect x="513.40" y="444.28" width="22.85" height="23.17" fill="#eed1cc"/><rect x="536.20" y="444.28" width="22.85" height="23.17" fill="#dca8a0"/><path d="M103.00 5.00V467.40M103.00 5.00H559.00M125.80 5.00V467.40M103.00 28.12H559.00M148.60 5.00V467.40M103.00 51.24H559.00M171.40 5.00V467.40M103.00 74.36H559.00M194.20 5.00V467.40M103.00 97.48H559.00M217.00 5.00V467.40M103.00 120.60H559.00M239.80 5.00V467.40M103.00 143.72H559.00M262.60 5.00V467.40M103.00 166.84H559.00M285.40 5.00V467.40M103.00 189.96H559.00M308.20 5.00V467.40M103.00 213.08H559.00M331.00 5.00V467.40M103.00 236.20H559.00M353.80 5.00V467.40M103.00 259.32H559.00M376.60 5.00V467.40M103.00 282.44H559.00M399.40 5.00V467.40M103.00 305.56H559.00M422.20 5.00V467.40M103.00 328.68H559.00M445.00 5.00V467.40M103.00 351.80H559.00M467.80 5.00V467.40M103.00 374.92H559.00M490.60 5.00V467.40M103.00 398.04H559.00M513.40 5.00V467.40M103.00 421.16H559.00M536.20 5.00V467.40M103.00 444.28H559.00M559.00 5.00V467.40M103.00 467.40H559.00" stroke="#cfcfcf" stroke-width="1.0" fill="none"/></svg>
<div class="yl" style="top:11.96px">seas_acf1</div><div class="yl" style="top:35.08px">diff2_acf10</div><div class="yl" style="top:58.20px">diff2_acf1</div><div class="yl" style="top:81.32px">diff1_acf10</div><div class="yl" style="top:104.44px">diff1_acf1</div><div class="yl" style="top:127.56px">x_acf10</div><div class="yl" style="top:150.68px">x_acf1</div><div class="yl" style="top:173.80px">entropy</div><div class="yl" style="top:196.92px">trough2</div><div class="yl" style="top:220.04px">trough1</div><div class="yl" style="top:243.16px">peak2</div><div class="yl" style="top:266.28px">peak1</div><div class="yl" style="top:289.40px">seasonal_strength2</div><div class="yl" style="top:312.52px">seasonal_strength1</div><div class="yl" style="top:335.64px">e_acf10</div><div class="yl" style="top:358.76px">e_acf1</div><div class="yl" style="top:381.88px">curvature</div><div class="yl" style="top:405.00px">linearity</div><div class="yl" style="top:428.12px">spike</div><div class="yl" style="top:451.24px">trend</div>
<div class="xl" style="left:-85.60px"><span>trend</span></div><div class="xl" style="left:-62.80px"><span>spike</span></div><div class="xl" style="left:-40.00px"><span>linearity</span></div><div class="xl" style="left:-17.20px"><span>curvature</span></div><div class="xl" style="left:5.60px"><span>e_acf1</span></div><div class="xl" style="left:28.40px"><span>e_acf10</span></div><div class="xl" style="left:51.20px"><span>seasonal_strength1</span></div><div class="xl" style="left:74.00px"><span>seasonal_strength2</span></div><div class="xl" style="left:96.80px"><span>peak1</span></div><div class="xl" style="left:119.60px"><span>peak2</span></div><div class="xl" style="left:142.40px"><span>trough1</span></div><div class="xl" style="left:165.20px"><span>trough2</span></div><div class="xl" style="left:188.00px"><span>entropy</span></div><div class="xl" style="left:210.80px"><span>x_acf1</span></div><div class="xl" style="left:233.60px"><span>x_acf10</span></div><div class="xl" style="left:256.40px"><span>diff1_acf1</span></div><div class="xl" style="left:279.20px"><span>diff1_acf10</span></div><div class="xl" style="left:302.00px"><span>diff2_acf1</span></div><div class="xl" style="left:324.80px"><span>diff2_acf10</span></div><div class="xl" style="left:347.60px"><span>seas_acf1</span></div>
<div class="lt">Correlation</div>
<div class="lb"></div>
<div class="tk" style="left:580px;top:200.0px"></div><div class="tk" style="left:594px;top:200.0px"></div><div class="ll" style="top:197.5px">1.0</div><div class="tk" style="left:580px;top:222.5px"></div><div class="tk" style="left:594px;top:222.5px"></div><div class="ll" style="top:220.0px">0.5</div><div class="tk" style="left:580px;top:245.0px"></div><div class="tk" style="left:594px;top:245.0px"></div><div class="ll" style="top:242.5px">0.0</div><div class="tk" style="left:580px;top:267.5px"></div><div class="tk" style="left:594px;top:267.5px"></div><div class="ll" style="top:265.0px">-0.5</div><div class="tk" style="left:580px;top:290.0px"></div><div class="tk" style="left:594px;top:290.0px"></div><div class="ll" style="top:287.5px">-1.0</div></body></html>
